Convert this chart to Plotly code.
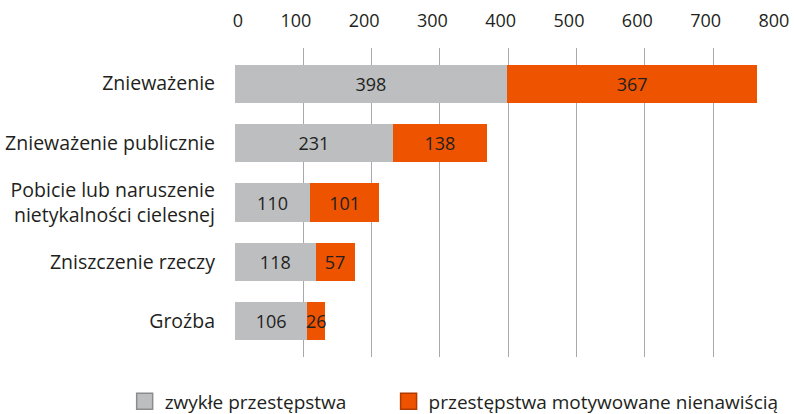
import plotly.graph_objects as go

categories = ["Znieważenie", "Znieważenie publicznie",
              "Pobicie lub naruszenie<br>nietykalności cielesnej",
              "Zniszczenie rzeczy", "Groźba"]
ordinary = [398, 231, 110, 118, 106]
hate = [367, 138, 101, 57, 26]
series_names = ["zwykłe przestępstwa", "przestępstwa motywowane nienawiścią"]
x_ticks = [0, 100, 200, 300, 400, 500, 600, 700, 800]

GRAY = "#BCBEC0"
ORANGE = "#EE5400"
TEXT = "#231F20"
FONT = "Open Sans"

fig = go.Figure()
for vals, color, name in [(ordinary, GRAY, series_names[0]), (hate, ORANGE, series_names[1])]:
    fig.add_trace(go.Bar(
        y=categories, x=vals, orientation="h", name=name,
        marker=dict(color=color, line=dict(width=0)),
        text=[str(v) for v in vals], textposition="inside",
        insidetextanchor="middle", textangle=0,
        textfont=dict(family=FONT, size=18, color=TEXT),
        showlegend=False, width=0.64, cliponaxis=False,
    ))
# legend entries (one legend per series so they can be placed independently)
for color, line_c, name, lg in [(GRAY, "#8A8C8E", series_names[0], "legend"),
                                (ORANGE, "#B03A00", series_names[1], "legend2")]:
    fig.add_trace(go.Scatter(
        x=[None], y=[None], mode="markers", name=name, legend=lg,
        marker=dict(symbol="square", size=16, color=color, line=dict(color=line_c, width=1.5)),
    ))

legend_common = dict(
    orientation="h", xanchor="left", y=-0.082, yanchor="top",
    font=dict(family=FONT, size=19, color=TEXT),
    itemsizing="trace", bgcolor="rgba(0,0,0,0)",
)

fig.update_layout(
    width=794, height=414,
    barmode="stack",
    paper_bgcolor="white", plot_bgcolor="white",
    margin=dict(l=235, r=12, t=48, b=57, autoexpand=False),
    font=dict(family=FONT, size=18, color=TEXT),
    uniformtext=dict(minsize=18, mode="show"),
    xaxis=dict(
        side="top", range=[0, 801], tickvals=x_ticks,
        showgrid=True, gridcolor="#A7A9AC", gridwidth=1,
        zeroline=False, showline=False, ticks="",
        ticklabelposition="outside left", ticklabelshift=8,
        ticklabelstandoff=16, automargin=False, ticklabeloverflow="allow",
        tickfont=dict(family=FONT, size=18, color=TEXT),
    ),
    yaxis=dict(
        range=[4.6, -0.6], showgrid=False, zeroline=False, showline=False,
        ticks="", ticklabelstandoff=19, automargin=False,
        tickfont=dict(family=FONT, size=19.5, color=TEXT),
    ),
    legend=dict(x=-0.2017, **legend_common),
    legend2=dict(x=0.2808, **legend_common),
)

fig.write_html("out.html", config={"displayModeBar": False},
               post_script="document.body.style.margin='0';document.body.style.padding='0';")
